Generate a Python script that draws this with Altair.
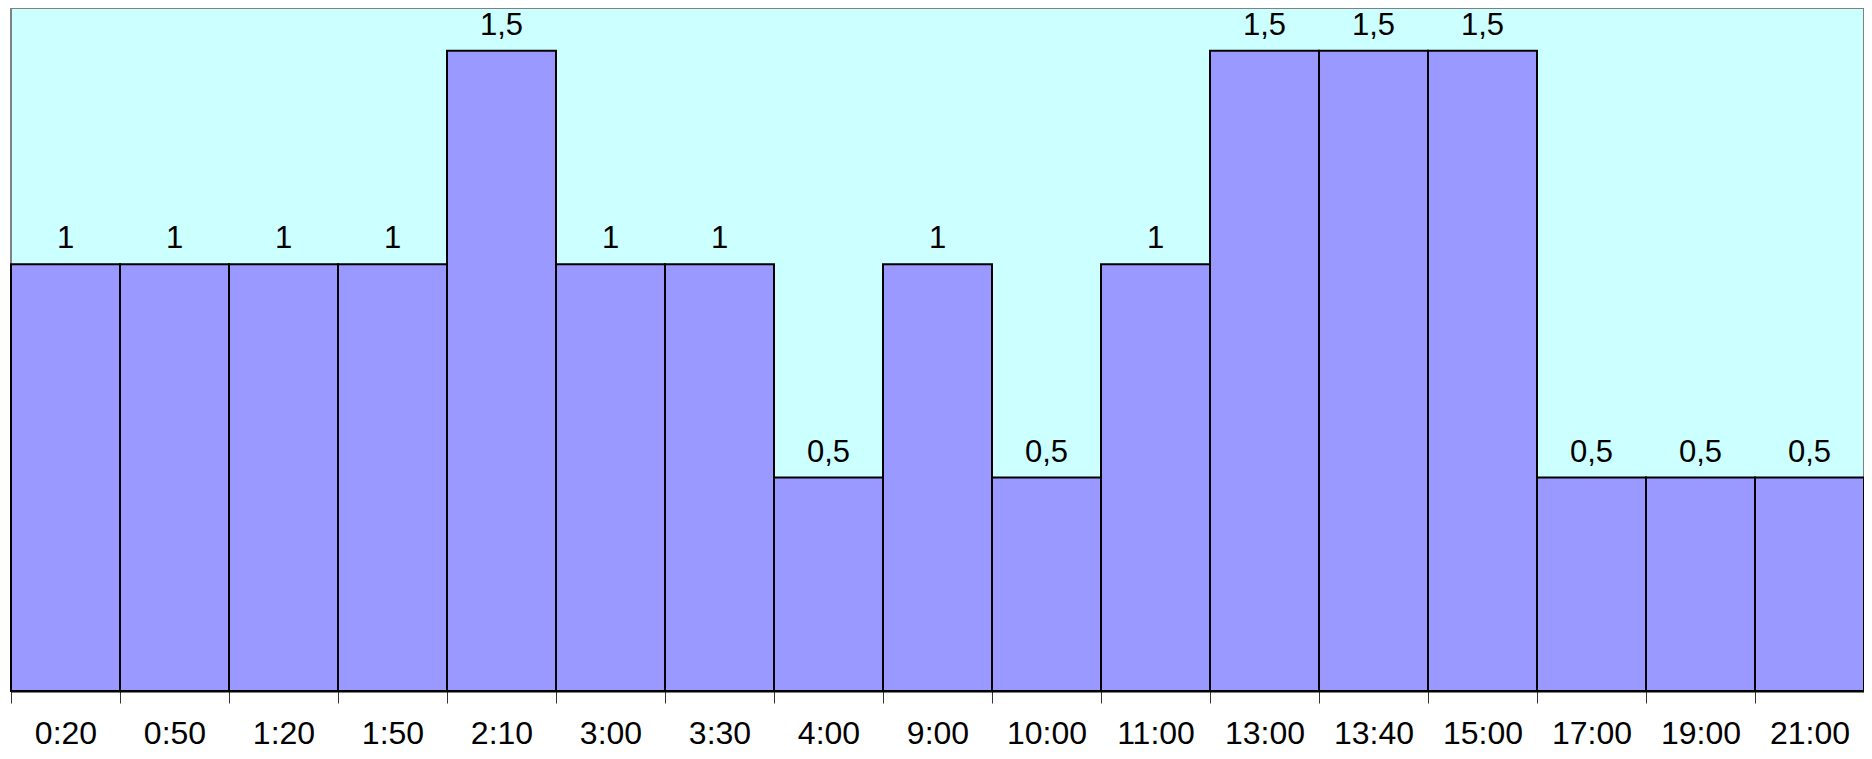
import altair as alt
import pandas as pd

categories = ["0:20", "0:50", "1:20", "1:50", "2:10", "3:00", "3:30", "4:00", "9:00",
              "10:00", "11:00", "13:00", "13:40", "15:00", "17:00", "19:00", "21:00"]
values = [1, 1, 1, 1, 1.5, 1, 1, 0.5, 1, 0.5, 1, 1.5, 1.5, 1.5, 0.5, 0.5, 0.5]

labels = [("%g" % v).replace(".", ",") for v in values]
df = pd.DataFrame({"time": categories, "value": values, "label": labels})

x = alt.X("time:N", sort=categories, title=None,
          scale=alt.Scale(paddingInner=0, paddingOuter=0),
          axis=alt.Axis(labelAngle=0, labelFont="Liberation Sans", labelFontSize=32,
                        labelColor="#000000", labelPadding=15, tickBand="extent",
                        tickSize=12, tickColor="#333333", tickWidth=1,
                        domainColor="#000000", domainWidth=2))
y = alt.Y("value:Q", scale=alt.Scale(domain=[0, 1.6], nice=False, zero=True), axis=None)

bars = alt.Chart(df).mark_bar(color="#9999FF", stroke="#000000", strokeWidth=2).encode(x=x, y=y)
text = alt.Chart(df).mark_text(font="Liberation Sans", fontSize=31, color="#000000",
                               baseline="alphabetic", dy=-16).encode(
    x=alt.X("time:N", sort=categories), y=y, text="label:N")

chart = alt.layer(bars, text).properties(
    width=1853, height=683,
    autosize=alt.AutoSizeParams(type="none"),
    padding={"left": 3, "top": 0, "right": 0, "bottom": 60},
    background="#FFFFFF",
).configure_view(fill="#CCFFFF", stroke="#808080", strokeWidth=2)

chart.save("out.html", embed_options={"renderer": "svg", "actions": False})
